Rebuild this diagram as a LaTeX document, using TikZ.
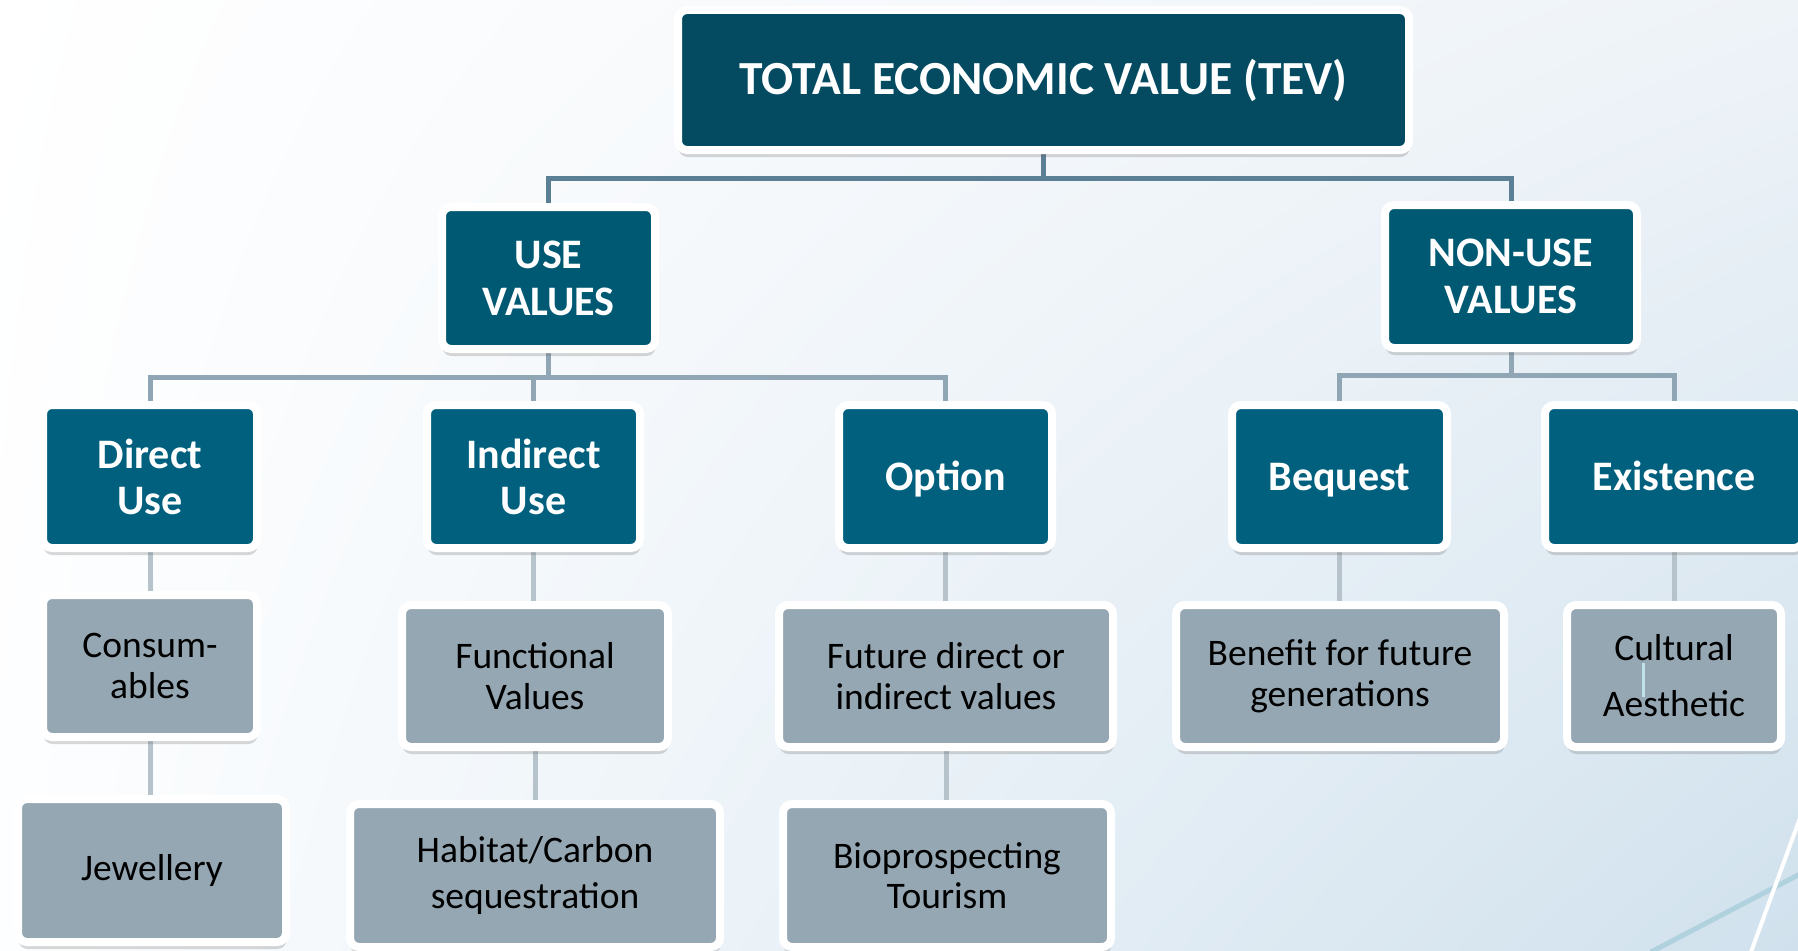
\documentclass[tikz,border=0pt]{standalone}
\usepackage{fontspec}
\setmainfont{Carlito}
\usetikzlibrary{shadows,shadings}

\definecolor{tevblue}{RGB}{4,75,98}
\definecolor{groupblue}{RGB}{0,89,114}
\definecolor{kindblue}{RGB}{0,96,126}
\definecolor{leafgray}{RGB}{149,167,179}
\definecolor{wireA}{RGB}{91,127,149}
\definecolor{wireB}{RGB}{144,166,180}
\definecolor{wireC}{RGB}{183,195,203}
\definecolor{bgtr}{RGB}{238,243,248}
\definecolor{bgbl}{RGB}{253,254,255}
\definecolor{bgbr}{RGB}{208,225,237}
\definecolor{streakblue}{RGB}{176,209,222}
\definecolor{caretcyan}{RGB}{190,228,234}

\pgfdeclarelayer{bg}
\pgfdeclarelayer{wires}
\pgfsetlayers{bg,wires,main}

\begin{document}
\begin{tikzpicture}[x=1pt,y=-1pt,
  box/.style={rectangle, rounded corners=9pt, draw=white, line width=8pt,
    inner sep=0pt, align=center,
    drop shadow={shadow xshift=0.5pt, shadow yshift=-7pt, opacity=0.25, fill=black!60}},
  oneline/.style={text height=27pt, text depth=0pt},
  toptier/.style={box, fill=tevblue, text=white,
    font=\fontsize{47.5}{52}\selectfont\bfseries},
  grouptier/.style={box, fill=groupblue, text=white,
    font=\fontsize{42}{47}\selectfont\bfseries},
  kindtier/.style={box, fill=kindblue, text=white,
    font=\fontsize{42}{46}\selectfont\bfseries},
  leaf/.style={box, fill=leafgray, text=black,
    font=\fontsize{37.5}{40.5}\selectfont},
  wire1/.style={draw=wireA, line width=5pt},
  wire2/.style={draw=wireB, line width=5pt},
  wire3/.style={draw=wireC, line width=5pt},
]
\useasboundingbox (0,0) rectangle (1798,950);

% background wash and corner streaks
\begin{pgfonlayer}{bg}
  \shade[upper left=white, upper right=bgtr, lower left=bgbl, lower right=bgbr]
    (0,0) rectangle (1798,950);
  \draw[streakblue, line width=5pt] (1651,952) -- (1800,874);
  \draw[white, line width=4pt] (1751,952) -- (1800,818);
\end{pgfonlayer}

% root
\node[toptier, minimum width=731pt, minimum height=140pt] (tev) at (1043.5,80)
  {TOTAL ECONOMIC VALUE (TEV)};

% value groups
\node[grouptier, minimum width=213pt, minimum height=142pt] (use) at (548.5,278)
  {USE\\VALUES};
\node[grouptier, minimum width=252pt, minimum height=143pt] (nonuse) at (1511,276.5)
  {NON-USE\\VALUES};

% value kinds
\node[kindtier, minimum width=214pt, minimum height=143pt] (direct) at (150,476.5)
  {Direct\\Use};
\node[kindtier, minimum width=213pt, minimum height=143pt] (indirect) at (533.5,476.5)
  {Indirect\\Use};
\node[kindtier, oneline, minimum width=213pt, minimum height=143pt] (option) at (945.5,476.5)
  {Option};
\node[kindtier, oneline, minimum width=215pt, minimum height=143pt] (bequest) at (1339.5,476.5)
  {Bequest};
\node[kindtier, oneline, minimum width=258pt, minimum height=143pt] (existence) at (1674,476.5)
  {Existence};

% examples
\node[leaf, minimum width=214pt, minimum height=142pt] (consum) at (150,666)
  {Consum-\\ables};
\node[leaf, minimum width=266pt, minimum height=142pt] (functional) at (535,676)
  {Functional\\Values};
\node[leaf, minimum width=334pt, minimum height=142pt] (future) at (946,676)
  {Future direct or\\indirect values};
\node[leaf, minimum width=328pt, minimum height=142pt] (benefit) at (1340,676)
  {Benefit for future\\generations};
\node[leaf, minimum width=214pt, minimum height=142pt,
  font=\fontsize{37.5}{56}\selectfont] (cultural) at (1674,676)
  {Cultural\\Aesthetic};
\node[leaf, minimum width=268pt, minimum height=143pt] (jewel) at (152,870.5)
  {Jewellery};
\node[leaf, minimum width=370pt, minimum height=143pt,
  font=\fontsize{37.5}{46}\selectfont] (habitat) at (535,875.5)
  {Habitat/Carbon\\sequestration};
\node[leaf, minimum width=328pt, minimum height=143pt] (bio) at (947,875.5)
  {Bioprospecting\\Tourism};

% caret mark inside the cultural box
\coordinate (caretTop) at (1643,663);
\coordinate (caretBot) at (1643,697);
\draw[caretcyan, line width=3pt] (caretTop) -- (caretBot);

% connectors
\coordinate (barA) at (0,178);
\coordinate (barU) at (0,377);
\coordinate (barN) at (0,375);
\begin{pgfonlayer}{wires}
  \draw[wire1] (use.north) |- (tev.south |- barA) -- (tev.south);
  \draw[wire1] (nonuse.north) |- (tev.south |- barA);

  \draw[wire2] (use.south) -- (use.south |- barU);
  \draw[wire2] (direct.north) |- (option.north |- barU) -- (option.north);
  \draw[wire2] (indirect.north) -- (indirect.north |- barU);

  \draw[wire2] (nonuse.south) -- (nonuse.south |- barN);
  \draw[wire2] (bequest.north) |- (existence.north |- barN) -- (existence.north);

  \draw[wire3] (direct.south) -- (consum.north);
  \draw[wire3] (consum.south) -- (jewel.north -| consum.south);
  \draw[wire3] (indirect.south) -- (functional.north -| indirect.south);
  \draw[wire3] (functional.south) -- (habitat.north);
  \draw[wire3] (option.south) -- (future.north -| option.south);
  \draw[wire3] (future.south) -- (bio.north -| future.south);
  \draw[wire3] (bequest.south) -- (benefit.north -| bequest.south);
  \draw[wire3] (existence.south) -- (cultural.north);
\end{pgfonlayer}
\end{tikzpicture}
\end{document}
